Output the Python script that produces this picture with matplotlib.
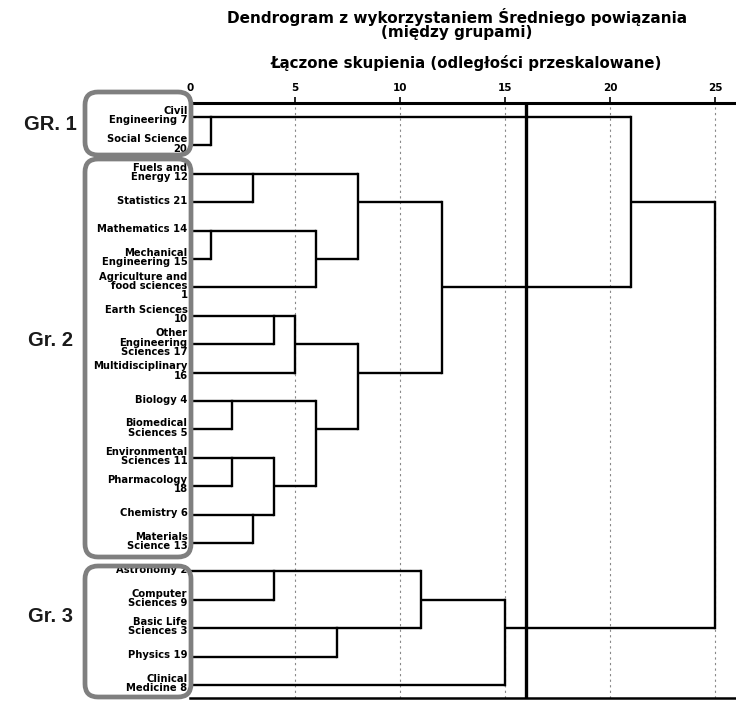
import numpy as np
import matplotlib
matplotlib.use("Agg")
import matplotlib.pyplot as plt
from matplotlib.patches import FancyBboxPatch

plt.rcParams["font.family"] = ["DejaVu Sans"]

# leaves in the order they are drawn, top to bottom
leaf_labels = [
    "Civil\nEngineering 7", "Social Science\n20", "Fuels and\nEnergy 12",
    "Statistics 21", "Mathematics 14", "Mechanical\nEngineering 15",
    "Agriculture and\nfood sciences\n1", "Earth Sciences\n10",
    "Other\nEngineering\nSciences 17", "Multidisciplinary\n16", "Biology 4",
    "Biomedical\nSciences 5", "Environmental\nSciences 11", "Pharmacology\n18",
    "Chemistry 6", "Materials\nScience 13", "Astronomy 2", "Computer\nSciences 9",
    "Basic Life\nSciences 3", "Physics 19", "Clinical\nMedicine 8",
]

# merges: (cluster a, cluster b, rescaled distance); new clusters get ids 21, 22, ...
merge_a = [0, 4, 10, 12, 2, 14, 7, 24, 16, 27, 22, 23, 18, 25, 30, 29, 34, 36, 21, 39]
merge_b = [1, 5, 11, 13, 3, 15, 8, 26, 17, 9, 6, 28, 19, 31, 32, 33, 35, 20, 37, 38]
merge_d = [1, 1, 2, 2, 3, 3, 4, 4, 4, 5, 6, 6, 7, 8, 8, 11, 12, 15, 21, 25]

cut_distance = 16
ticks = [0, 5, 10, 15, 20, 25]

groups = ["GR. 1", "Gr. 2", "Gr. 3"]

fig = plt.figure(figsize=(7.36, 7.01), dpi=100)
W, H = 736, 701
ax = fig.add_axes([190 / W, 1 - 698 / H, 1 - 190 / W, (698 - 103) / H])
ax.set_xlim(0, 26)
ax.set_ylim(20.46, -0.49)

# grid lines
for t in ticks[1:]:
    ax.axvline(t, color="#888888", lw=0.8, ls=(0, (2, 3)), zorder=1)
ax.axvline(cut_distance, color="black", lw=2.4, zorder=3)

# dendrogram (SPSS style: merged cluster continues on the middle row)
pos_y = {i: i for i in range(len(leaf_labels))}
pos_x = {i: 0 for i in range(len(leaf_labels))}
lw = 1.7
for k, (a, b, d) in enumerate(zip(merge_a, merge_b, merge_d)):
    ya, yb = pos_y[a], pos_y[b]
    ax.plot([pos_x[a], d], [ya, ya], color="black", lw=lw, solid_capstyle="butt", zorder=2)
    ax.plot([pos_x[b], d], [yb, yb], color="black", lw=lw, solid_capstyle="butt", zorder=2)
    ax.plot([d, d], [ya, yb], color="black", lw=lw, solid_capstyle="projecting", zorder=2)
    new = len(leaf_labels) + k
    pos_y[new] = int(np.floor((ya + yb) / 2))
    pos_x[new] = d

for i, lab in enumerate(leaf_labels):
    ax.text(-0.12, i - 0.05, lab, ha="right", va="center", fontsize=7.2,
            fontweight="bold", linespacing=0.92, clip_on=False, zorder=5)

ax.xaxis.tick_top()
ax.set_xticks(ticks)
ax.set_xticklabels([str(t) for t in ticks], fontsize=7.5, fontweight="bold")
ax.tick_params(axis="x", length=4, width=1.2, pad=3)
ax.set_yticks([])
for s in ["left", "right"]:
    ax.spines[s].set_visible(False)
ax.spines["top"].set_linewidth(2.2)
ax.spines["bottom"].set_linewidth(1.8)

# group boxes (pixel coords, top-left origin)
boxes = [(85, 92, 191, 155), (85, 159, 191, 557), (85, 566, 191, 697)]
for x0, y0, x1, y1 in boxes:
    p = FancyBboxPatch((x0 / 100, (H - y1) / 100), (x1 - x0) / 100, (y1 - y0) / 100,
                       boxstyle="round,pad=0,rounding_size=0.13",
                       transform=fig.dpi_scale_trans, fill=False,
                       ec="#7f7f7f", lw=3.4, zorder=4)
    fig.add_artist(p)

group_y = [124, 340, 617]
for g, gy in zip(groups, group_y):
    fig.text(50 / W, 1 - gy / H, g, ha="center", va="center", fontsize=14.5,
             fontweight="bold", color="#1a1a1a", family="Liberation Sans")

fig.text(457 / W, 1 - 17 / H, "Dendrogram z wykorzystaniem Średniego powiązania",
         ha="center", va="center", fontsize=11, fontweight="bold")
fig.text(457 / W, 1 - 32 / H, "(między grupami)", ha="center", va="center",
         fontsize=11, fontweight="bold")
fig.text(466 / W, 1 - 63 / H, "Łączone skupienia (odległości przeskalowane)",
         ha="center", va="center", fontsize=10.8, fontweight="bold")

fig.savefig("out.png", dpi=100)
